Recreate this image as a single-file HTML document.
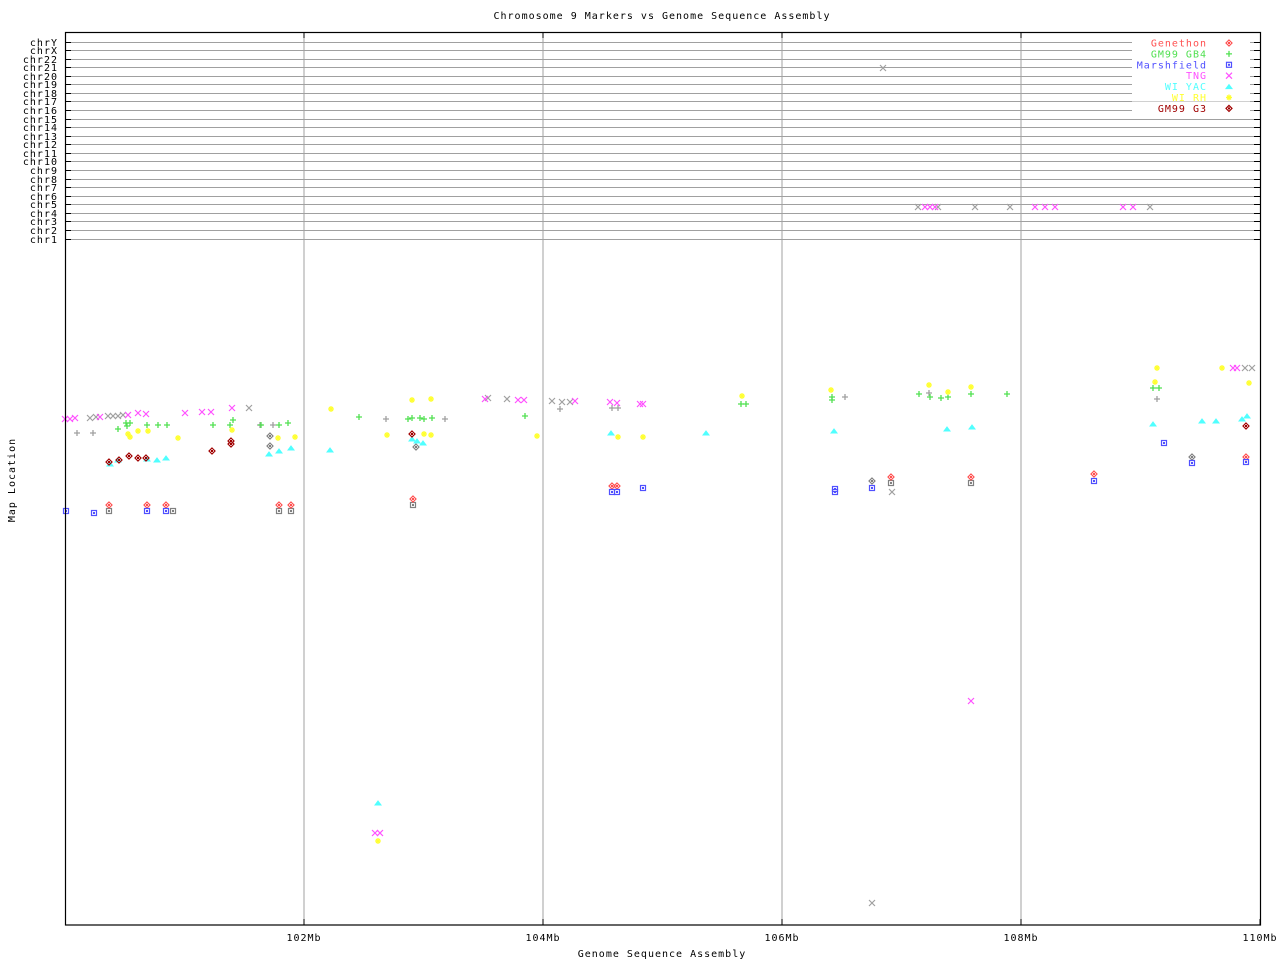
<!DOCTYPE html>
<html><head><meta charset="utf-8"><style>
html,body{margin:0;padding:0;background:#fff;}
svg{display:block;font-family:"DejaVu Sans Mono","Liberation Mono",monospace;font-size:10px;}
svg text{letter-spacing:1px;}
</style></head><body>
<svg id="ch" width="1280" height="960" viewBox="0 0 1280 960" xmlns="http://www.w3.org/2000/svg">
<defs>
<g id="dm"><path d="M0,-3 L3,0 L0,3 L-3,0 Z" fill="none" stroke-width="1.2"/><rect x="-0.5" y="-0.5" width="1" height="1"/></g>
<g id="pl"><path d="M-3,0 H3 M0,-3 V3" stroke-width="1.3"/></g>
<g id="sq"><rect x="-2.5" y="-2.5" width="5" height="5" fill="none" stroke-width="1.2"/><rect x="-0.5" y="-0.5" width="1" height="1"/></g>
<g id="xx"><path d="M-3,-3 L3,3 M-3,3 L3,-3" stroke-width="1.2"/></g>
<g id="tr"><path d="M-3,2 L0,-2 L3,2 Z" stroke-width="1"/></g>
<g id="st"><path d="M-3,0 H3 M0,-3 V3 M-2,-2 L2,2 M-2,2 L2,-2" stroke-width="1.3"/></g>
</defs>
<text x="662" y="19" text-anchor="middle" fill="#000">Chromosome 9 Markers vs Genome Sequence Assembly</text>
<g stroke="#a0a0a0" stroke-width="1">
<path d="M304,33V925M543,33V925M782,33V925M1021,33V925"/>
</g>
<g stroke="#a0a0a0" stroke-width="1" id="hl"></g>
<g id="marks"></g>
<rect x="65.5" y="32.5" width="1195" height="892.5" fill="none" stroke="#000" stroke-width="1.2"/>
<g stroke="#000"><path d="M304,919V925M543,919V925M782,919V925M1021,919V925M1260,919V925M304,33V38M543,33V38M782,33V38M1021,33V38"/></g>
<g fill="#000">
<text x="304" y="941" text-anchor="middle">102Mb</text>
<text x="543" y="941" text-anchor="middle">104Mb</text>
<text x="782" y="941" text-anchor="middle">106Mb</text>
<text x="1021" y="941" text-anchor="middle">108Mb</text>
<text x="1260" y="941" text-anchor="middle">110Mb</text>
<text x="662" y="957" text-anchor="middle">Genome Sequence Assembly</text>
<text x="15" y="480" text-anchor="middle" transform="rotate(-90 15 480)">Map Location</text>
</g>
<g id="lab"></g>
</svg>
<script>
(function(){
var ns="http://www.w3.org/2000/svg";
var svg=document.getElementById("marks"),lab=document.getElementById("lab"),hl=document.getElementById("hl");
var labs=["chrY","chrX","chr22","chr21","chr20","chr19","chr18","chr17","chr16","chr15","chr14","chr13","chr12","chr11","chr10","chr9","chr8","chr7","chr6","chr5","chr4","chr3","chr2","chr1"];
function E(p,tag,a,txt){var e=document.createElementNS(ns,tag);for(var k in a)e.setAttribute(k,a[k]);if(txt)e.textContent=txt;p.appendChild(e);return e;}
for(var i=0;i!==24;i++){var y=Math.round(41.5+i*8.57)+0.5;
E(hl,"line",{x1:65,x2:1260,y1:y,y2:y});
E(lab,"line",{x1:65,x2:71,y1:y,y2:y,stroke:"#000"});
E(lab,"line",{x1:1254,x2:1260,y1:y,y2:y,stroke:"#000"});
E(lab,"text",{x:58,y:y+3.5,"text-anchor":"end"},labs[i]);}
function P(id,col,pts,par){par=par||svg;for(var i=0;i!==pts.length;i+=2){E(par,"use",{href:"#"+id,x:pts[i],y:pts[i+1],stroke:col,fill:col});}}
P("xx","#a0a0a0",[883,68,918,207,938,207,975,207,1010,207,1150,207,1245,368,1252,368,249,408,488,398,507,399,552,401,562,402,570,402,892,492,872,903,90,418,108,416,118,416,96,417,113,416,123,415]);
P("pl","#a0a0a0",[77,433,93,433,260,425,386,419,445,419,560,409,612,408,618,408,845,397,929,393,1157,399,273,425]);
P("sq","#808080",[109,511,173,511,279,511,291,511,413,505,891,483,971,483]);
P("dm","#808080",[270,436,270,446,416,447,1192,457,872,481]);
P("xx","#ff50ff",[65,419,70,419,75,418,100,417,128,415,138,413,146,414,185,413,202,412,211,412,232,408,485,399,518,400,524,400,575,401,610,402,617,403,640,404,643,404,925,207,930,207,935,207,1035,207,1045,207,1055,207,1123,207,1133,207,1233,368,1237,368,375,833,380,833,971,701]);
P("pl","#50e050",[118,429,126,423,130,423,127,426,147,425,158,425,167,425,213,425,230,425,233,420,261,425,279,425,288,423,359,417,408,419,412,418,420,418,424,419,432,418,525,416,741,404,746,404,832,397,832,400,919,394,930,397,941,398,948,397,971,394,1007,394,1153,388,1159,388]);
P("st","#ffff30",[130,437,128,434,138,431,148,431,178,438,232,430,278,438,295,437,331,409,387,435,412,400,431,399,424,434,431,435,537,436,618,437,643,437,742,396,831,390,929,385,948,392,971,387,1157,368,1222,368,1249,383,1155,382,378,841]);
P("tr","#50ffff",[110,464,118,460,147,459,157,460,166,458,269,454,279,451,291,448,330,450,378,803,412,439,417,441,423,443,611,433,706,433,834,431,947,429,972,427,1153,424,1202,421,1216,421,1242,419,1247,416]);
P("dm","#a00000",[109,462,119,460,129,456,138,458,146,458,212,451,231,441,231,444,412,434,1246,426]);
P("dm","#ff5050",[109,505,147,505,166,505,279,505,291,505,413,499,612,486,617,486,891,477,971,477,1094,474,1246,457]);
P("sq","#5050ff",[66,511,94,513,147,511,166,511,612,492,617,492,643,488,835,489,835,492,872,488,1094,481,1164,443,1192,463,1246,462]);
var L=[["Genethon","#ff5050","dm"],["GM99 GB4","#50e050","pl"],["Marshfield","#5050ff","sq"],["TNG","#ff50ff","xx"],["WI YAC","#50ffff","tr"],["WI RH","#ffff30","st"],["GM99 G3","#a00000","dm"]];
for(var k=0;k!==7;k++){var yy=43+k*10.9;
E(lab,"rect",{x:1132,y:yy-6,width:118,height:10,fill:"#fff"});
E(lab,"text",{x:1207,y:yy+3.5,"text-anchor":"end",fill:L[k][1]},L[k][0]);
P(L[k][2],L[k][1],[1229,yy],lab);}
})();
</script>
</body></html>
